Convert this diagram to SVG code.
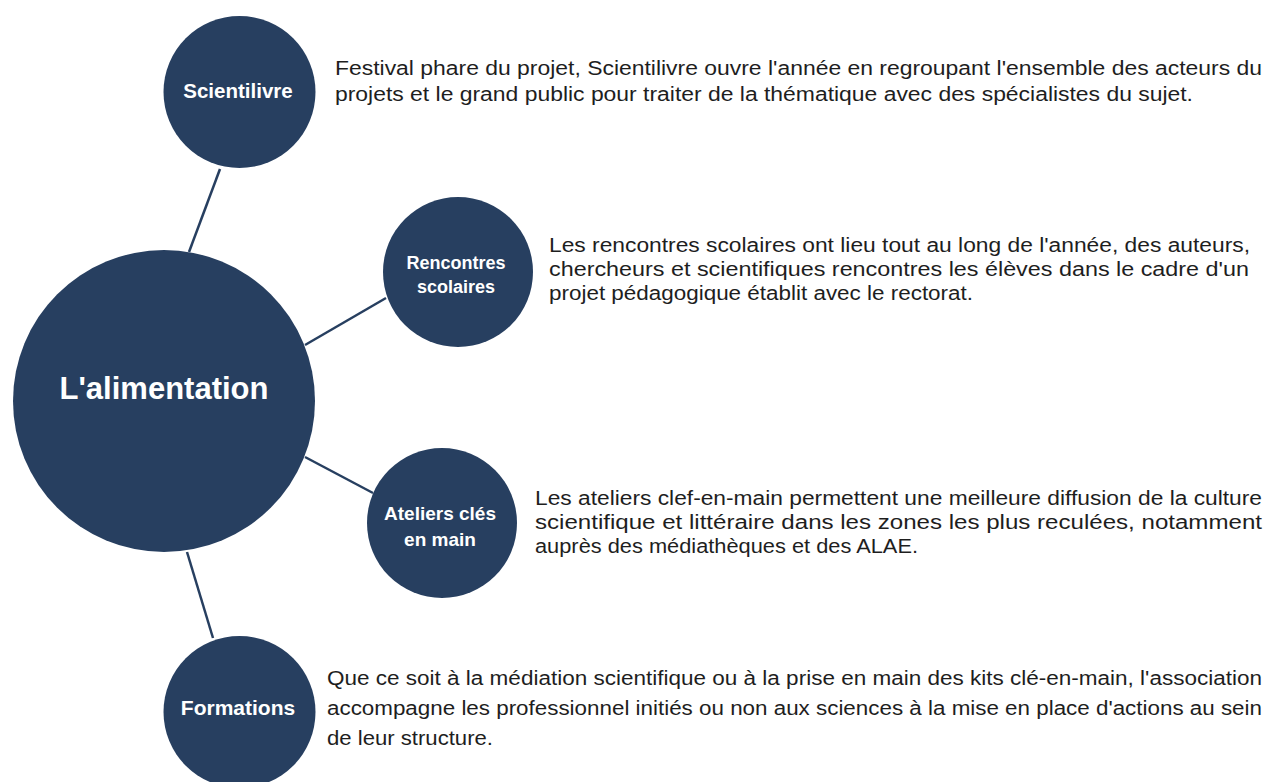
<svg xmlns="http://www.w3.org/2000/svg" width="1265" height="782" viewBox="0 0 1265 782">
<style>
.node{fill:#273f60}
.lbl{font-family:"Liberation Sans",Arial,sans-serif;font-weight:bold;fill:#ffffff;text-anchor:middle}
.body{font-family:"Liberation Sans",Arial,sans-serif;font-size:20px;fill:#1e1e1e}
.edge{stroke:#273f60;stroke-width:2.5;fill:none}
</style>
<rect width="1265" height="782" fill="#ffffff"/>
<g id="connectors">
<line class="edge" x1="220" y1="169" x2="189" y2="252"/>
<line class="edge" x1="305" y1="345" x2="386" y2="298"/>
<line class="edge" x1="305" y1="457" x2="373" y2="493"/>
<line class="edge" x1="187" y1="552" x2="213" y2="638"/>
</g>
<g id="center">
<circle class="node" cx="164" cy="401" r="151"/>
<text class="lbl" x="164" y="399" font-size="31">L'alimentation</text>
</g>
<g id="scientilivre">
<circle class="node" cx="239.5" cy="92" r="76"/>
<text class="lbl" x="238" y="98" font-size="20.5">Scientilivre</text>
<text class="body" x="335" y="75" textLength="927" lengthAdjust="spacingAndGlyphs">Festival phare du projet, Scientilivre ouvre l'année en regroupant l'ensemble des acteurs du</text>
<text class="body" x="335" y="101" textLength="858" lengthAdjust="spacingAndGlyphs">projets et le grand public pour traiter de la thématique avec des spécialistes du sujet.</text>
</g>
<g id="rencontres">
<circle class="node" cx="458" cy="272" r="75"/>
<text class="lbl" x="456" y="269" font-size="18">Rencontres</text>
<text class="lbl" x="456" y="293" font-size="18">scolaires</text>
<text class="body" x="549" y="252" textLength="701" lengthAdjust="spacingAndGlyphs">Les rencontres scolaires ont lieu tout au long de l'année, des auteurs,</text>
<text class="body" x="549" y="276" textLength="700" lengthAdjust="spacingAndGlyphs">chercheurs et scientifiques rencontres les élèves dans le cadre d'un</text>
<text class="body" x="549" y="300" textLength="424" lengthAdjust="spacingAndGlyphs">projet pédagogique établit avec le rectorat.</text>
</g>
<g id="ateliers">
<circle class="node" cx="442" cy="523" r="75"/>
<text class="lbl" x="440" y="520" font-size="19">Ateliers clés</text>
<text class="lbl" x="440" y="546" font-size="19">en main</text>
<text class="body" x="535" y="505" textLength="727" lengthAdjust="spacingAndGlyphs">Les ateliers clef-en-main permettent une meilleure diffusion de la culture</text>
<text class="body" x="535" y="529" textLength="727" lengthAdjust="spacingAndGlyphs">scientifique et littéraire dans les zones les plus reculées, notamment</text>
<text class="body" x="535" y="553" textLength="383" lengthAdjust="spacingAndGlyphs">auprès des médiathèques et des ALAE.</text>
</g>
<g id="formations">
<circle class="node" cx="239.5" cy="712" r="76"/>
<text class="lbl" x="238" y="715" font-size="21">Formations</text>
<text class="body" x="327" y="685" textLength="935" lengthAdjust="spacingAndGlyphs">Que ce soit à la médiation scientifique ou à la prise en main des kits clé-en-main, l'association</text>
<text class="body" x="327" y="715" textLength="935" lengthAdjust="spacingAndGlyphs">accompagne les professionnel initiés ou non aux sciences à la mise en place d'actions au sein</text>
<text class="body" x="327" y="745" textLength="166" lengthAdjust="spacingAndGlyphs">de leur structure.</text>
</g>
</svg>
